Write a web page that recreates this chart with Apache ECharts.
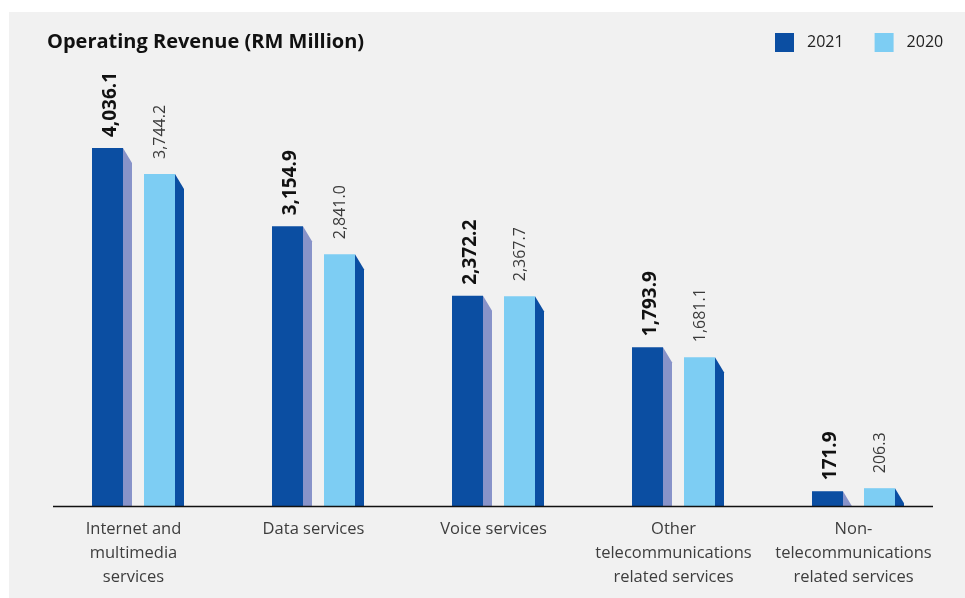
<!DOCTYPE html>
<html>
<head>
<meta charset="utf-8">
<script src="https://cdn.jsdelivr.net/npm/echarts@6/dist/echarts.min.js"></script>
<style>html,body{margin:0;padding:0;background:#fff;}#c{width:965px;height:598px;}</style>
</head>
<body>
<div id="c"></div>
<script>
const categories = [
  'Internet and\nmultimedia\nservices',
  'Data services',
  'Voice services',
  'Other\ntelecommunications\nrelated services',
  'Non-\ntelecommunications\nrelated services'
];
const values2021 = [4036.1, 3154.9, 2372.2, 1793.9, 171.9];
const values2020 = [3744.2, 2841.0, 2367.7, 1681.1, 206.3];
const seriesNames = ['2021', '2020'];

const FONT = '"Open Sans", "Noto Sans", sans-serif';
const styles = [
  { main: '#0b4ea2', side: '#8893c9', offset: -41.5, weight: 'bold', fill: '#111111', size: 19, gap: 11, dx: 3 },
  { main: '#7dcdf3', side: '#0b4ea2', offset: 10.5, weight: 'normal', fill: '#3a3a3a', size: 16, gap: 15, dx: 1 }
];

function makeRender(s) {
  const st = styles[s];
  return function (params, api) {
    const i = api.value(0), v = api.value(1);
    const base = api.coord([i, 0]);
    const top = api.coord([i, v]);
    const w = 31, side = 9, drop = 15;
    const x0 = base[0] + st.offset;
    const by = base[1], ty = top[1];
    const label = v.toLocaleString('en-US', { minimumFractionDigits: 1, maximumFractionDigits: 1 });
    return {
      type: 'group',
      children: [
        { type: 'rect', shape: { x: x0, y: ty, width: w, height: by - ty }, style: { fill: st.main } },
        { type: 'polygon', shape: { points: [[x0 + w, ty], [x0 + w + side, Math.min(ty + drop, by)], [x0 + w + side, by], [x0 + w, by]] }, style: { fill: st.side } },
        { type: 'text', x: x0 + w / 2 + st.dx, y: ty - st.gap, rotation: Math.PI / 2,
          style: { text: label, x: 0, y: 0, align: 'left', verticalAlign: 'middle', fontSize: st.size, fontWeight: st.weight, fill: st.fill, fontFamily: FONT } }
      ]
    };
  };
}

const chart = echarts.init(document.getElementById('c'), null, { renderer: 'canvas' });
chart.setOption({
  backgroundColor: '#ffffff',
  animation: false,
  graphic: [
    { type: 'rect', z: -10, silent: true, shape: { x: 9, y: 12, width: 960, height: 590 }, style: { fill: '#f1f1f1' } },
    { type: 'line', z: 10, silent: true, shape: { x1: 53, y1: 506.5, x2: 933, y2: 506.5 }, style: { stroke: '#111111', lineWidth: 1.5 } }
  ],
  title: {
    text: 'Operating Revenue (RM Million)',
    left: 42, top: 27,
    textStyle: { fontFamily: FONT, fontSize: 20, fontWeight: 'bold', color: '#111111' }
  },
  legend: {
    left: 770, top: 28,
    itemWidth: 19, itemHeight: 19, itemGap: 31,
    icon: 'rect',
    textStyle: { fontFamily: FONT, fontSize: 16, color: '#222222', padding: [0, 0, 0, 8] },
    data: [
      { name: seriesNames[0], itemStyle: { color: styles[0].main } },
      { name: seriesNames[1], itemStyle: { color: styles[1].main } }
    ]
  },
  grid: { left: 43.5, right: 21.5, top: 62.5, bottom: 91.5 },
  xAxis: {
    type: 'category',
    data: categories,
    axisLine: { show: false },
    axisTick: { show: false },
    axisLabel: { fontFamily: FONT, fontSize: 16.5, lineHeight: 24, color: '#3d3d3d', margin: 11, interval: 0 }
  },
  yAxis: { type: 'value', min: 0, max: 5000, show: false, splitLine: { show: false } },
  series: [
    { name: seriesNames[0], type: 'custom', renderItem: makeRender(0), itemStyle: { color: styles[0].main }, encode: { x: 0, y: 1 }, data: values2021.map((v, i) => [i, v]) },
    { name: seriesNames[1], type: 'custom', renderItem: makeRender(1), itemStyle: { color: styles[1].main }, encode: { x: 0, y: 1 }, data: values2020.map((v, i) => [i, v]) }
  ]
});
</script>
</body>
</html>
